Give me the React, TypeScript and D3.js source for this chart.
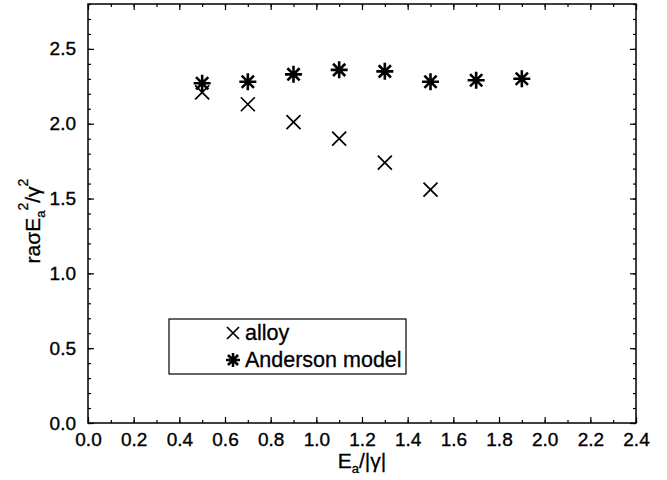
import React from "react";
import { useRef, useEffect } from "react";
import { select, scaleLinear, axisBottom, axisLeft, axisTop, axisRight, range } from "d3";

// data
const alloyX = [0.5, 0.7, 0.9, 1.1, 1.3, 1.5];
const alloyY = [2.21, 2.13, 2.01, 1.9, 1.74, 1.56];
const andersonX = [0.5, 0.7, 0.9, 1.1, 1.3, 1.5, 1.7, 1.9];
const andersonY = [2.27, 2.28, 2.33, 2.36, 2.35, 2.28, 2.29, 2.3];
const xMajorTicks = [0, 0.2, 0.4, 0.6, 0.8, 1.0, 1.2, 1.4, 1.6, 1.8, 2.0, 2.2, 2.4];
const yMajorTicks = [0, 0.5, 1.0, 1.5, 2.0, 2.5];
const legendLabels = ["alloy", "Anderson model"];

const FONT = "'Liberation Sans', Arial, Helvetica, sans-serif";

function App() {
  const chartRef = useRef<HTMLDivElement>(null);

  useEffect(() => {
    const svgWidth = 667;
    const svgHeight = 480;
    const margin = { top: 4, right: 31, bottom: 57, left: 88 };
    const width = svgWidth - margin.left - margin.right;
    const height = svgHeight - margin.top - margin.bottom;

    select(chartRef.current).selectAll("*").remove();

    const root = select(chartRef.current)
      .append("svg")
      .attr("width", svgWidth)
      .attr("height", svgHeight)
      .style("position", "absolute")
      .style("left", "0px")
      .style("top", "0px")
      .style("background", "#fff");

    const svg = root.append("g").attr("transform", `translate(${margin.left},${margin.top})`);

    const xScale = scaleLinear().domain([0, 2.4]).range([0, width]);
    const yScale = scaleLinear().domain([0, 2.8]).range([height, 0]);

    const xMinor = range(0, 25).map((i) => i / 10);
    const yMinor = range(0, 29).map((i) => i / 10);

    // minor ticks on all four sides, pointing inward
    const minor = [
      svg.append("g").attr("transform", `translate(0,${height})`).call(axisBottom(xScale).tickValues(xMinor).tickSize(-3).tickFormat(() => "")),
      svg.append("g").call(axisTop(xScale).tickValues(xMinor).tickSize(-3).tickFormat(() => "")),
      svg.append("g").call(axisLeft(yScale).tickValues(yMinor).tickSize(-3).tickFormat(() => "")),
      svg.append("g").attr("transform", `translate(${width},0)`).call(axisRight(yScale).tickValues(yMinor).tickSize(-3).tickFormat(() => "")),
    ];

    // major ticks with labels
    const xAxis = svg
      .append("g")
      .attr("transform", `translate(0,${height})`)
      .call(axisBottom(xScale).tickValues(xMajorTicks).tickSize(-6).tickPadding(10).tickFormat((d: any) => (+d).toFixed(1)));
    const yAxis = svg
      .append("g")
      .call(axisLeft(yScale).tickValues(yMajorTicks).tickSize(-6).tickPadding(12).tickFormat((d: any) => (+d).toFixed(1)));
    const others = [
      svg.append("g").call(axisTop(xScale).tickValues(xMajorTicks).tickSize(-6).tickFormat(() => "")),
      svg.append("g").attr("transform", `translate(${width},0)`).call(axisRight(yScale).tickValues(yMajorTicks).tickSize(-6).tickFormat(() => "")),
    ];

    [...minor, xAxis, yAxis, ...others].forEach((g) => {
      g.select(".domain").remove();
      g.selectAll("line").attr("stroke", "#000").attr("stroke-width", 1.2);
    });
    [xAxis, yAxis].forEach((g) => {
      g.selectAll("text")
        .attr("font-family", FONT)
        .attr("font-size", 19)
        .attr("fill", "#000")
        .attr("stroke", "#000")
        .attr("stroke-width", 0.35);
    });

    // frame
    svg
      .append("rect")
      .attr("x", 0)
      .attr("y", 0)
      .attr("width", width)
      .attr("height", height)
      .attr("fill", "none")
      .attr("stroke", "#000")
      .attr("stroke-width", 1.5);

    const drawCross = (g: any, cx: number, cy: number, r: number) => {
      g.append("path")
        .attr("d", `M${cx - r},${cy - r}L${cx + r},${cy + r}M${cx - r},${cy + r}L${cx + r},${cy - r}`)
        .attr("stroke", "#000")
        .attr("stroke-width", 1.7)
        .attr("fill", "none");
    };
    const drawStar = (g: any, cx: number, cy: number, r: number) => {
      const d = r * 0.72;
      g.append("path")
        .attr(
          "d",
          `M${cx},${cy - r}L${cx},${cy + r}M${cx - r},${cy}L${cx + r},${cy}` +
            `M${cx - d},${cy - d}L${cx + d},${cy + d}M${cx - d},${cy + d}L${cx + d},${cy - d}`
        )
        .attr("stroke", "#000")
        .attr("stroke-width", 2.6)
        .attr("fill", "none");
    };

    // alloy
    alloyX.forEach((x, i) => drawCross(svg, xScale(x), yScale(alloyY[i]), 7));
    // Anderson model
    andersonX.forEach((x, i) => drawStar(svg, xScale(x), yScale(andersonY[i]), 8.5));

    // legend
    const legend = root.append("g");
    legend
      .append("rect")
      .attr("x", 169)
      .attr("y", 319)
      .attr("width", 237)
      .attr("height", 55)
      .attr("fill", "#fff")
      .attr("stroke", "#000")
      .attr("stroke-width", 1.2);
    drawCross(legend, 233, 333, 6);
    drawStar(legend, 233, 360, 7);
    legendLabels.forEach((label, i) => {
      legend
        .append("text")
        .attr("x", 245)
        .attr("y", 340 + i * 27)
        .attr("font-family", FONT)
        .attr("font-size", 21.5)
        .attr("stroke", "#000")
        .attr("stroke-width", 0.3)
        .text(label);
    });

    // x axis title
    const xt = root
      .append("text")
      .attr("x", 362)
      .attr("y", 468)
      .attr("text-anchor", "middle")
      .attr("font-family", FONT)
      .attr("font-size", 21)
      .attr("stroke", "#000")
      .attr("stroke-width", 0.3);
    xt.append("tspan").text("E");
    xt.append("tspan").attr("font-size", 13).attr("dy", 5).text("a");
    xt.append("tspan").attr("dy", -5).text("/|γ|");

    // y axis title
    const yt = root
      .append("text")
      .attr("transform", "translate(40,221) rotate(-90)")
      .attr("text-anchor", "middle")
      .attr("font-family", FONT)
      .attr("font-size", 21)
      .attr("stroke", "#000")
      .attr("stroke-width", 0.3);
    yt.append("tspan").text("raσE");
    yt.append("tspan").attr("font-size", 13).attr("dy", 5).text("a");
    yt.append("tspan").attr("font-size", 14).attr("dy", -17).text("2");
    yt.append("tspan").attr("dy", 12).text("/γ");
    yt.append("tspan").attr("font-size", 14).attr("dy", -12).text("2");
  }, []);

  return <div ref={chartRef}></div>;
}

export default App;
